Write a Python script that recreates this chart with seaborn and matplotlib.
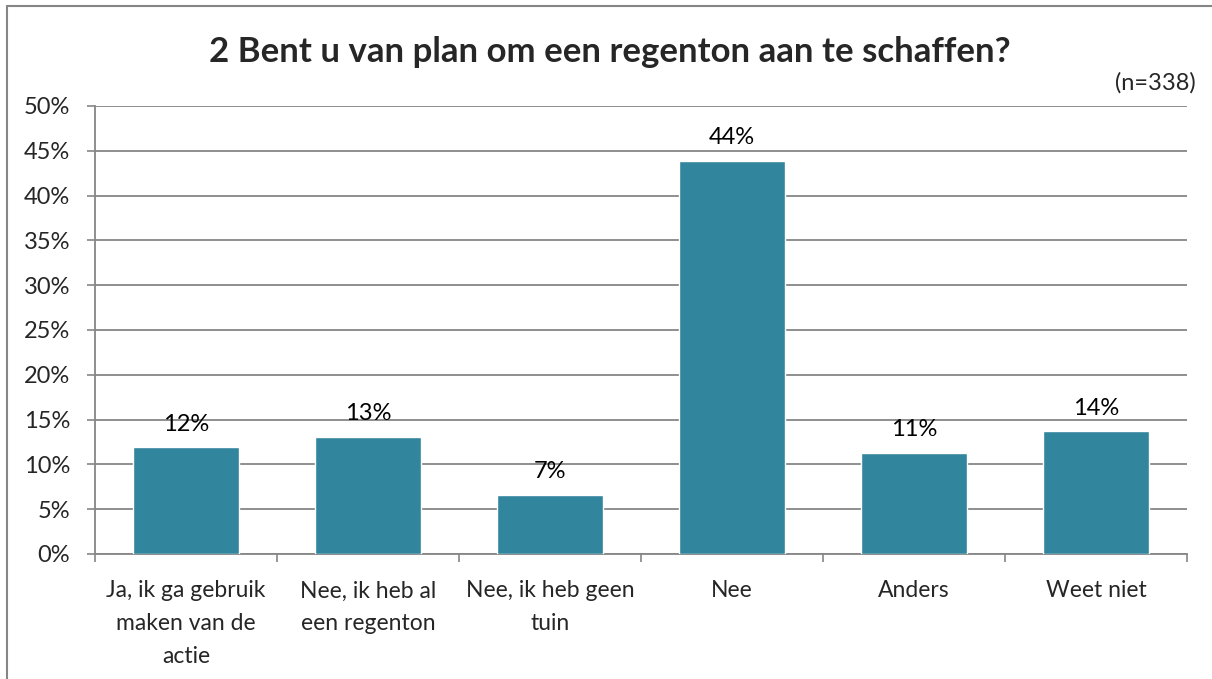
#!/usr/bin/env python3
# -*- coding: utf-8 -*-
'''
Staafdiagram: 2 Bent u van plan om een regenton aan te schaffen?
'''
import matplotlib
matplotlib.use("Agg")
import matplotlib.pyplot as plt
from matplotlib.lines import Line2D
from matplotlib.ticker import PercentFormatter
import pandas as pd
import seaborn as sns

# data (n=338)
categories = [
    "Ja, ik ga gebruik\nmaken van de\nactie",
    "Nee, ik heb al\neen regenton",
    "Nee, ik heb geen\ntuin",
    "Nee",
    "Anders",
    "Weet niet",
]
shares = [0.119, 0.131, 0.066, 0.439, 0.113, 0.137]
bar_labels = ["12%", "13%", "7%", "44%", "11%", "14%"]
y_ticks = [0.0, 0.05, 0.10, 0.15, 0.20, 0.25, 0.30, 0.35, 0.40, 0.45, 0.50]
title = "2 Bent u van plan om een regenton aan te schaffen?"
note = "(n=338)"

bar_color = "#31859C"
grey = "#868686"

sns.set_style("white")
plt.rcParams["font.family"] = ["Lato", "DejaVu Sans"]

df = pd.DataFrame({"antwoord": categories, "aandeel": shares})

fig = plt.figure(figsize=(12.12, 6.79), dpi=100)
ax = fig.add_axes([95 / 1212, 1 - 554 / 679, (1187 - 95) / 1212, (554 - 106) / 679])

sns.barplot(data=df, x="antwoord", y="aandeel", color=bar_color,
            saturation=1, width=0.58, ax=ax, zorder=3)

ax.bar_label(ax.containers[0], labels=bar_labels,
             padding=9, fontsize=17, color="black")

ax.set_ylim(0, 0.5)
ax.set_xlim(-0.5, len(categories) - 0.5)
ax.set_yticks(y_ticks)
ax.yaxis.set_major_formatter(PercentFormatter(1.0, decimals=0))
ax.yaxis.grid(True, color=grey, linewidth=1.3, zorder=0)
ax.set_xlabel("")
ax.set_ylabel("")

# Excel-style category separators on the x axis
ax.set_xticks([i - 0.5 for i in range(len(categories) + 1)], minor=True)
ax.tick_params(axis="x", which="minor", length=6, width=1.2, color=grey,
               direction="out", bottom=True)
ax.tick_params(axis="x", which="major", length=0, pad=19, labelsize=16.5)
for lbl in ax.get_xticklabels():
    lbl.set_linespacing(1.7)
ax.tick_params(axis="y", length=6, width=1.2, color=grey, direction="out",
               left=True, pad=12, labelsize=17)

for side in ["top", "right"]:
    ax.spines[side].set_visible(False)
for side in ["left", "bottom"]:
    ax.spines[side].set_color(grey)
    ax.spines[side].set_linewidth(1.3)

fig.text(0.503, 1 - 52 / 679, title, ha="center", va="center",
         fontsize=25, fontweight="bold")
fig.text(1196 / 1212, 1 - 83 / 679, note, ha="right", va="center", fontsize=17)

# outer chart frame (cropped at right and bottom)
fig.add_artist(Line2D([7 / 1212, 7 / 1212], [0, 1 - 6 / 679],
                      color=grey, linewidth=1.5, transform=fig.transFigure))
fig.add_artist(Line2D([7 / 1212, 1], [1 - 6 / 679, 1 - 6 / 679],
                      color=grey, linewidth=1.5, transform=fig.transFigure))

fig.savefig("out.png", dpi=100)
